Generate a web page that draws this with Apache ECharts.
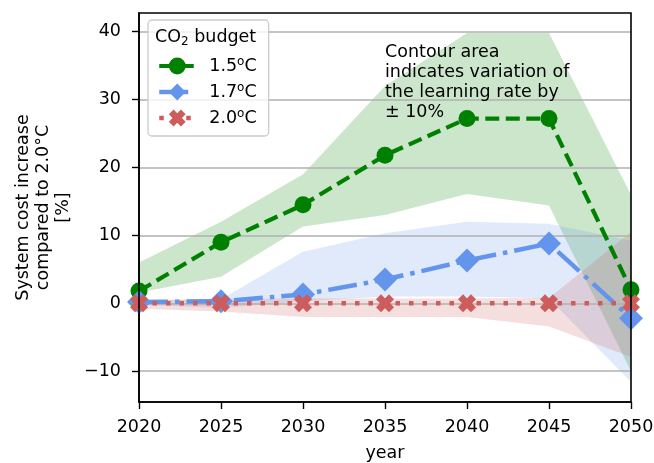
<!DOCTYPE html>
<html>
<head>
<meta charset="utf-8">
<script src="https://cdn.jsdelivr.net/npm/echarts@6/dist/echarts.min.js"></script>
<style>html,body{margin:0;padding:0;background:#fff;}#c{width:654px;height:463px;}</style>
</head>
<body>
<div id="c"></div>
<script>
// ---- data ----
const years = [2020, 2025, 2030, 2035, 2040, 2045, 2050];
const cost15 = [1.8, 9.0, 14.5, 21.8, 27.2, 27.2, 2.0];
const cost17 = [0.2, 0.3, 1.3, 3.5, 6.3, 8.8, -2.2];
const cost20 = [0.0, 0.0, 0.0, 0.0, 0.0, 0.0, 0.0];
const band15Low  = [1.6, 3.9, 11.3, 13.0, 16.1, 14.4, -10.0];
const band15High = [6.0, 12.0, 19.0, 32.0, 39.8, 39.8, 16.0];
const band17Low  = [-0.2, -0.7, 0.3, 1.0, 1.0, 0.7, -11.6];
const band17High = [0.4, 0.6, 7.6, 10.3, 12.0, 11.7, 9.2];
const band20Low  = [-0.8, -1.2, -2.0, -2.0, -2.0, -3.4, -7.9];
const band20High = [0.5, 0.6, 0.7, 0.7, 0.7, 0.8, 10.5];
const yTicks = [-10, 0, 10, 20, 30, 40];
const seriesNames = ['1.5°C', '1.7°C', '2.0°C'];

const FONT = 'DejaVu Sans';
const GREEN = '#008000', BLUE = '#6495ED', RED = '#CD5C5C';
const XPATH = 'path://M0,2.8L2.8,0L5,2.2L7.2,0L10,2.8L7.8,5L10,7.2L7.2,10L5,7.8L2.8,10L0,7.2L2.2,5Z';

const LS15 = { color: GREEN, width: 4.2, type: [14, 6.5] };
const LS17 = { color: BLUE, width: 4.5, type: [29, 7, 4.5, 7] };
const LS20 = { color: RED, width: 4.5, type: [4.5, 9] };

function pts(vals) { return years.map((y, i) => [y, vals[i]]); }
function band(lo, hi, color) {
  return {
    type: 'custom', silent: true, z: 1, clip: true,
    data: years.map((y, i) => [y, lo[i], hi[i]]),
    encode: { x: 0, y: [1, 2] },
    renderItem: function (params, api) {
      if (params.dataIndexInside !== 0) return null;
      const n = params.dataInsideLength;
      const upper = [], lower = [];
      for (let i = 0; i < n; i++) {
        upper.push(api.coord([api.value(0, i), api.value(2, i)]));
        lower.push(api.coord([api.value(0, i), api.value(1, i)]));
      }
      const points = upper.concat(lower.reverse());
      return {
        type: 'polygon',
        shape: { points: points },
        style: { fill: color, opacity: 0.2 }
      };
    }
  };
}

const chart = echarts.init(document.getElementById('c'), null, { renderer: 'canvas' });
chart.setOption({
  animation: false,
  backgroundColor: '#fff',
  grid: { left: 139, right: 23, top: 13, bottom: 61, outerBoundsMode: 'none', containLabel: false,
    show: true, borderColor: '#000', borderWidth: 1.6, backgroundColor: 'transparent', z: 10 },
  title: {
    text: '{a|CO}{s|2}{a| budget}', left: 155, top: 27, z: 30, padding: 0,
    textStyle: { fontWeight: 'normal', rich: {
      a: { fontSize: 17.5, fontFamily: FONT, fontWeight: 'normal', color: '#000', lineHeight: 21 },
      s: { fontSize: 12, fontFamily: FONT, fontWeight: 'normal', color: '#000', lineHeight: 21, verticalAlign: 'bottom' }
    } }
  },
  legend: {
    data: [
      { name: seriesNames[0], lineStyle: LS15 },
      { name: seriesNames[1], lineStyle: LS17 },
      { name: seriesNames[2], lineStyle: LS20 }
    ],
    orient: 'vertical', left: 148, top: 20, z: 20,
    padding: [35.5, 12, 7.5, 9], itemWidth: 36, itemHeight: 21, itemGap: 5,
    borderColor: '#cccccc', borderWidth: 1.3, borderRadius: 4, backgroundColor: 'rgba(255,255,255,0.8)',
    selectedMode: false,
    formatter: name => name.replace('°', '{sup|o}'),
    textStyle: { fontSize: 17.5, fontFamily: FONT, color: '#000', lineHeight: 21, padding: [0, 0, 0, 9],
      rich: { sup: { fontSize: 12, fontFamily: FONT, color: '#000', verticalAlign: 'top', lineHeight: 21 } } }
  },
  graphic: [{
    type: 'text', left: 385, top: 42, z: 20,
    style: { text: 'Contour area\nindicates variation of\nthe learning rate by\n± 10%', fontSize: 17.5, fontFamily: FONT, fill: '#000', lineHeight: 20 }
  }],
  xAxis: {
    type: 'value', min: 2020, max: 2050, interval: 5, z: 2,
    name: 'year', nameLocation: 'middle', nameGap: 42,
    nameTextStyle: { fontSize: 17.5, fontFamily: FONT, color: '#000' },
    axisLine: { show: true, onZero: false, lineStyle: { color: '#000', width: 1.6 } },
    axisTick: { show: true, length: 7, lineStyle: { color: '#000', width: 1.4 } },
    axisLabel: { color: '#000', fontSize: 17.5, fontFamily: FONT, margin: 16, formatter: v => String(v) },
    splitLine: { show: false }
  },
  yAxis: {
    type: 'value', min: -14.53, max: 42.75, z: 2,
    name: 'System cost increase\ncompared to 2.0°C\n[%]', nameLocation: 'middle', nameRotate: 90, nameGap: 65,
    nameTextStyle: { fontSize: 17.5, fontFamily: FONT, color: '#000', lineHeight: 20, align: 'center' },
    axisLine: { show: true, onZero: false, lineStyle: { color: '#000', width: 1.6 } },
    axisTick: { show: true, length: 7, lineStyle: { color: '#000', width: 1.4 }, customValues: yTicks },
    axisLabel: { color: '#000', fontSize: 17.5, fontFamily: FONT, margin: 18, customValues: yTicks,
      formatter: v => (v < 0 ? '\u2212' + (-v) : String(v)) },
    splitLine: { show: true, lineStyle: { color: '#b0b0b0', width: 1.6 } }
  },
  series: [
    band(band15Low, band15High, GREEN),
    band(band17Low, band17High, BLUE),
    band(band20Low, band20High, RED),
    { name: seriesNames[0], type: 'line', data: pts(cost15), z: 5,
      symbol: 'circle', symbolSize: 17, itemStyle: { color: GREEN, borderWidth: 0 }, lineStyle: LS15 },
    { name: seriesNames[1], type: 'line', data: pts(cost17), z: 6,
      symbol: 'diamond', symbolSize: [24, 24], itemStyle: { color: BLUE, borderWidth: 0 }, lineStyle: LS17 },
    { name: seriesNames[2], type: 'line', data: pts(cost20), z: 7,
      symbol: XPATH, symbolSize: 18, itemStyle: { color: RED, borderWidth: 0 }, lineStyle: LS20 }
  ]
});
</script>
</body>
</html>
